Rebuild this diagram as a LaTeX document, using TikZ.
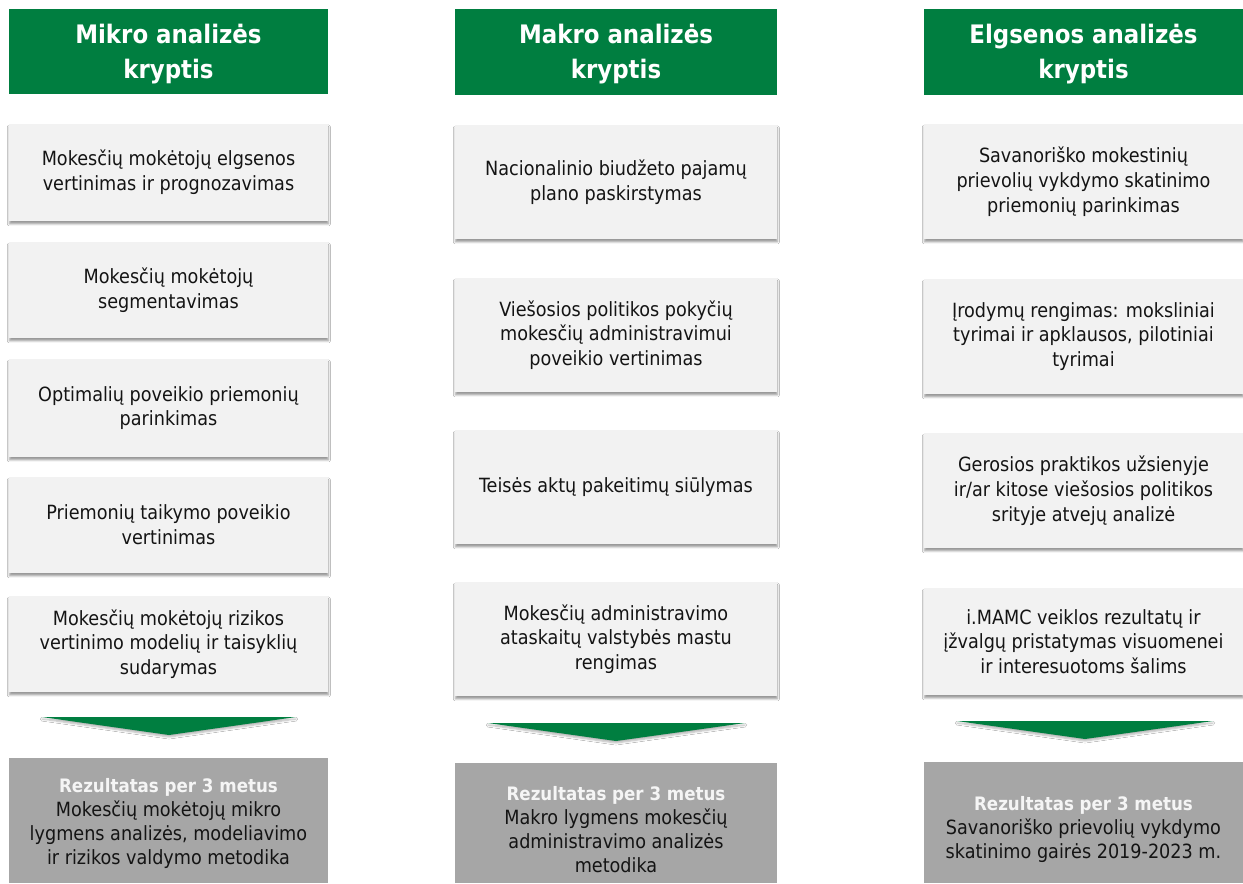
\documentclass[tikz,border=0pt]{standalone}
\usepackage{fontspec}
\setmainfont{DejaVu Sans Condensed}
\usetikzlibrary{shadows.blur}
\definecolor{hgreen}{RGB}{0,126,64}
\definecolor{boxgray}{RGB}{242,242,242}
\definecolor{resgray}{RGB}{166,166,166}
\definecolor{restitle}{RGB}{245,245,245}
\definecolor{txt}{RGB}{20,20,20}
\tikzset{
  head/.style={fill=hgreen, draw=none, text=white, align=center, inner sep=0pt,
    font=\bfseries\fontsize{19.1}{26.3}\selectfont},
  item/.style={fill=boxgray, draw=none, text=txt, align=center, inner sep=0pt,
    font=\fontsize{14.7}{18.6}\selectfont,
    blur shadow={shadow xshift=0.3pt, shadow yshift=-2.2pt, shadow blur radius=1.5pt, shadow blur steps=6, shadow opacity=40}},
  result/.style={fill=resgray, draw=none, inner sep=0pt},
  restext/.style={text=txt, align=center, inner sep=0pt, font=\fontsize{14.7}{18}\selectfont},
  headtext/.style={text=white, align=center, inner sep=0pt, font=\bfseries\fontsize{19.1}{26.3}\selectfont},
  arrowshape/.style={fill=hgreen, draw=none,
    blur shadow={shadow xshift=0pt, shadow yshift=-1.5pt, shadow blur radius=1.5pt, shadow blur steps=5, shadow opacity=30}}
}
\newcommand{\rtitle}{\textcolor{restitle}{\bfseries\fontsize{13.9}{18}\selectfont Rezultatas per 3 metus}}
\begin{document}
\begin{tikzpicture}[x=0.75pt,y=-0.75pt]
\useasboundingbox[fill=white] (0,0) rectangle (1243,883);

% ---------- Column 1 ----------
\node[head, minimum width=319*0.75pt, minimum height=85*0.75pt] (h1) at (168.5,51.5) {};
\node[headtext] (h1t) at (168.5,54) {Mikro analizės\\kryptis};
\node[item, minimum width=319*0.75pt, minimum height=97*0.75pt] (a1) at (168.5,172.5) {Mokesčių mokėtojų elgsenos\\vertinimas ir prognozavimas};
\node[item, minimum width=319*0.75pt, minimum height=96*0.75pt] (a2) at (168.5,290) {Mokesčių mokėtojų\\segmentavimas};
\node[item, minimum width=319*0.75pt, minimum height=98*0.75pt] (a3) at (168.5,408) {Optimalių poveikio priemonių\\parinkimas};
\node[item, minimum width=319*0.75pt, minimum height=96*0.75pt] (a4) at (168.5,525) {Priemonių taikymo poveikio\\vertinimas};
\node[item, minimum width=319*0.75pt, minimum height=96*0.75pt] (a5) at (168.5,644) {Mokesčių mokėtojų rizikos\\vertinimo modelių ir taisyklių\\sudarymas};
\coordinate (p1l) at (42,717); \coordinate (p1r) at (296,717); \coordinate (p1t) at (169,735);
\path[arrowshape] (p1l) -- (p1r) -- (p1t) -- cycle;
\node[result, minimum width=319*0.75pt, minimum height=125*0.75pt] (r1) at (168.5,820.5) {};
\node[restext] (r1t) at (168.5,823) {\rtitle\\Mokesčių mokėtojų mikro\\lygmens analizės, modeliavimo\\ir rizikos valdymo metodika};

% ---------- Column 2 ----------
\node[head, minimum width=322*0.75pt, minimum height=86*0.75pt] (h2) at (616,52) {};
\node[headtext] (h2t) at (616,54) {Makro analizės\\kryptis};
\node[item, minimum width=322*0.75pt, minimum height=114*0.75pt] (b1) at (616,182) {Nacionalinio biudžeto pajamų\\plano paskirstymas};
\node[item, minimum width=322*0.75pt, minimum height=114*0.75pt] (b2) at (616,335) {Viešosios politikos pokyčių\\mokesčių administravimui\\poveikio vertinimas};
\node[item, minimum width=322*0.75pt, minimum height=114*0.75pt] (b3) at (616,487) {Teisės aktų pakeitimų siūlymas};
\node[item, minimum width=322*0.75pt, minimum height=114*0.75pt] (b4) at (616,639) {Mokesčių administravimo\\ataskaitų valstybės mastu\\rengimas};
\coordinate (p2l) at (488,723); \coordinate (p2r) at (745,723); \coordinate (p2t) at (616,741);
\path[arrowshape] (p2l) -- (p2r) -- (p2t) -- cycle;
\node[result, minimum width=322*0.75pt, minimum height=120*0.75pt] (r2) at (616,823) {};
\node[restext] (r2t) at (616,830) {\rtitle\\Makro lygmens mokesčių\\administravimo analizės\\metodika};

% ---------- Column 3 ----------
\node[head, minimum width=319*0.75pt, minimum height=86*0.75pt] (h3) at (1083.5,52) {};
\node[headtext] (h3t) at (1083.5,54) {Elgsenos analizės\\kryptis};
\node[item, minimum width=319*0.75pt, minimum height=115*0.75pt] (c1) at (1083.5,181.5) {Savanoriško mokestinių\\prievolių vykdymo skatinimo\\priemonių parinkimas};
\node[item, minimum width=319*0.75pt, minimum height=115*0.75pt] (c2) at (1083.5,336.5) {Įrodymų rengimas: moksliniai\\tyrimai ir apklausos, pilotiniai\\tyrimai};
\node[item, minimum width=319*0.75pt, minimum height=115*0.75pt] (c3) at (1083.5,490.5) {Gerosios praktikos užsienyje\\ir/ar kitose viešosios politikos\\srityje atvejų analizė};
\node[item, minimum width=319*0.75pt, minimum height=107*0.75pt] (c4) at (1083.5,641.5) {i.MAMC veiklos rezultatų ir\\įžvalgų pristatymas visuomenei\\ir interesuotoms šalims};
\coordinate (p3l) at (957,721); \coordinate (p3r) at (1213,721); \coordinate (p3t) at (1085,739);
\path[arrowshape] (p3l) -- (p3r) -- (p3t) -- cycle;
\node[result, minimum width=319*0.75pt, minimum height=121*0.75pt] (r3) at (1083.5,822.5) {};
\node[restext] (r3t) at (1083.5,829) {\rtitle\\Savanoriško prievolių vykdymo\\skatinimo gairės 2019-2023 m.};
\end{tikzpicture}
\end{document}
